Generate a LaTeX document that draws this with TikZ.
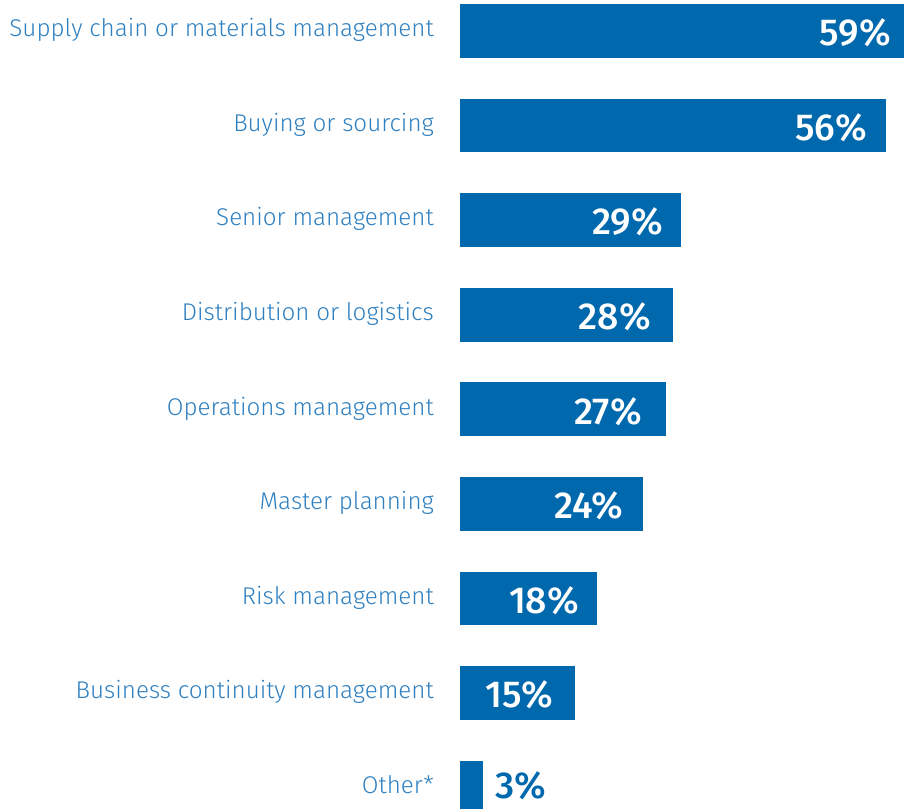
\documentclass[tikz,border=0pt]{standalone}
\usepackage{fontspec}
\newfontfamily\lightfont{Fira Sans Light}
\newfontfamily\pctfont{Fira Sans Medium}
\definecolor{barblue}{RGB}{0,104,173}
\definecolor{labblue}{RGB}{47,128,192}
\begin{document}
\begin{tikzpicture}[x=1pt,y=-1pt,
  bar/.style={fill=barblue,draw=none},
  lab/.style={anchor=base east,inner sep=0pt,text=labblue,font=\lightfont\fontsize{24.2}{28}\selectfont},
  pct/.style={anchor=base east,inner sep=0pt,text=white,font=\pctfont\fontsize{37.5}{42}\selectfont},
  pctout/.style={anchor=base west,inner sep=0pt,text=barblue,font=\pctfont\fontsize{37.5}{42}\selectfont}]
\useasboundingbox (0,0) rectangle (904,808);
\clip (0,0) rectangle (904,808);
\foreach \i/\e/\tr/\v/\t in {
  0/910/891/59/Supply chain or materials management,
  1/886/867/56/Buying or sourcing,
  2/681/663/29/Senior management,
  3/673/651/28/Distribution or logistics,
  4/666/642/27/Operations management,
  5/643/623/24/Master planning,
  6/597/579/18/Risk management,
  7/575/553/15/Business continuity management}{
  \pgfmathsetmacro{\top}{4+94.55*\i}
  \pgfmathsetmacro{\mid}{\top+26.85}
  \node[bar,minimum width={(\e-460)*1pt},minimum height=53.7pt,inner sep=0pt,anchor=north west] (b\i) at (460,\top) {};
  \node[lab] (l\i) at (434,\mid+6) {\t};
  \node[pct] (p\i) at (\tr,\mid+15) {\v\%};
}
\node[bar,minimum width=23pt,minimum height=53.7pt,inner sep=0pt,anchor=north west] (b8) at (460,760.4) {};
\node[lab] (l8) at (434,793.2) {Other*};
\node[pctout] (p8) at (495,798.5) {3\%};
\end{tikzpicture}
\end{document}
